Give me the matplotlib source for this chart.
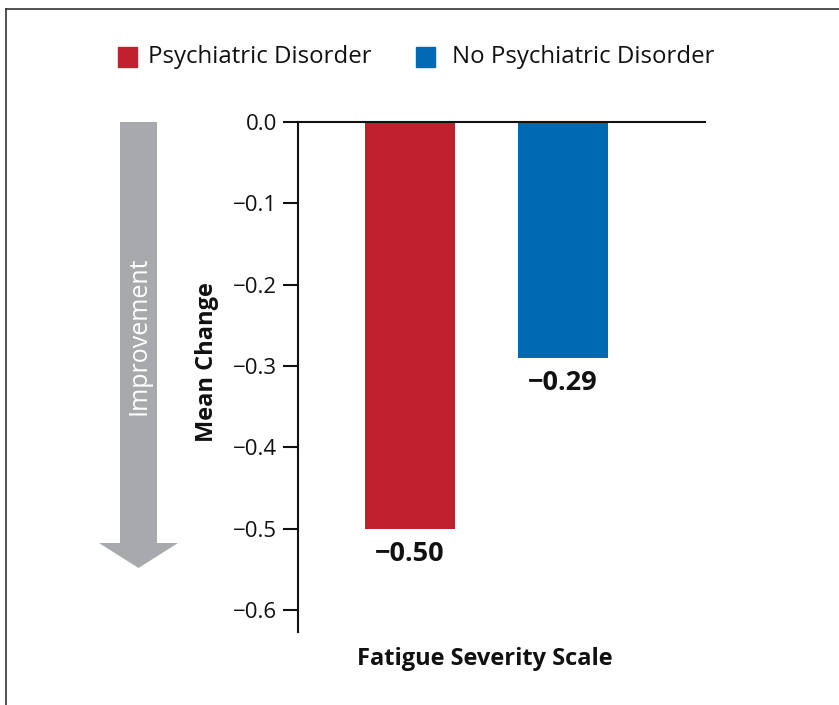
import matplotlib
matplotlib.use("Agg")
import matplotlib.pyplot as plt
from matplotlib.patches import FancyArrow, Rectangle
from matplotlib.lines import Line2D

plt.rcParams["font.family"] = ["Open Sans", "DejaVu Sans"]
plt.rcParams["axes.unicode_minus"] = True

groups = ["Psychiatric Disorder", "No Psychiatric Disorder"]
mean_change = [-0.50, -0.29]
value_labels = ["\u22120.50", "\u22120.29"]
colors = ["#c1202f", "#0069b4"]
yticks = [0.0, -0.1, -0.2, -0.3, -0.4, -0.5, -0.6]
ytick_labels = ["0.0", "\u22120.1", "\u22120.2", "\u22120.3", "\u22120.4", "\u22120.5", "\u22120.6"]

W, H = 839, 705
fig = plt.figure(figsize=(W / 100, H / 100), dpi=100, facecolor="white")

ax = fig.add_axes([298 / W, 1 - 632 / H, 407 / W, 510 / H])
ax.set_facecolor("none")
x = [0, 1]
ax.bar(x, mean_change, width=0.59, color=colors, zorder=2)
for xi, v, lab in zip(x, mean_change, value_labels):
    ax.annotate(lab, (xi, v), xytext=(0, -9), textcoords="offset points",
                ha="center", va="top", fontsize=19.5, fontweight="bold", color="#111111")

ax.set_xlim(-0.732, 1.928)
ax.set_ylim(-0.627, 0)
ax.set_yticks(yticks)
ax.set_yticklabels(ytick_labels)
ax.set_xticks([])
ax.tick_params(axis="y", length=11, width=1.5, labelsize=16, pad=4, colors="#111111")
for s in ("right", "bottom"):
    ax.spines[s].set_visible(False)
for s in ("left", "top"):
    ax.spines[s].set_linewidth(1.5)
    ax.spines[s].set_color("#111111")
ax.spines["top"].set_zorder(3)

ax.set_ylabel("Mean Change", fontsize=17, fontweight="bold", color="#111111")
ax.yaxis.set_label_coords((219 - 298) / 407, 0.53)
fig.text(485 / W, 1 - 659 / H, "Fatigue Severity Scale", ha="center", va="center",
         fontsize=17, fontweight="bold", color="#111111")

# downward "Improvement" arrow on the left
arrow = FancyArrow(138.5 / W, 1 - 122 / H, 0, -(568 - 122) / H, width=37 / W,
                   head_width=79 / W, head_length=25 / H, length_includes_head=True,
                   color="#a7a9ac", transform=fig.transFigure, lw=0)
fig.patches.append(arrow)
fig.text(138.5 / W, 1 - 336 / H, "Improvement", rotation=90, ha="center", va="center",
         fontsize=18, color="white")

# legend row
legend_items = [(118, 148), (416, 452)]
for (sx, tx), g, c in zip(legend_items, groups, colors):
    fig.patches.append(Rectangle((sx / W, 1 - 67 / H), 19 / W, 20 / H, color=c,
                                 transform=fig.transFigure))
    fig.text(tx / W, 1 - 57 / H, g, ha="left", va="center", fontsize=17.3, color="#111111")

# frame lines along top and left edges
fig.add_artist(Line2D([6 / W, 1], [1 - 9 / H, 1 - 9 / H], color="#333333", lw=1.2,
                      transform=fig.transFigure))
fig.add_artist(Line2D([6 / W, 6 / W], [0, 1 - 9 / H], color="#333333", lw=1.2,
                      transform=fig.transFigure))

fig.savefig("out.png", dpi=100)
